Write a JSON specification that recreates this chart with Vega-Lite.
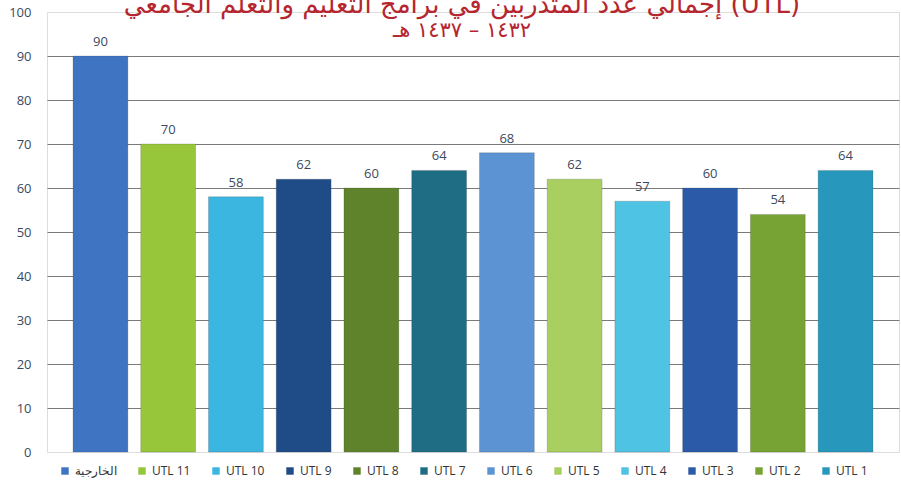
{
  "$schema": "https://vega.github.io/schema/vega-lite/v6.json",
  "width": 852,
  "height": 440,
  "autosize": "none",
  "padding": {"left": 47, "top": 12, "right": 2, "bottom": 31},
  "background": "white",
  "title": {
    "text": "إجمالي عدد المتدربين في برامج التعليم والتعلم الجامعي (UTL)",
    "subtitle": "١٤٣٢ – ١٤٣٧ هـ",
    "font": "DejaVu Sans",
    "fontSize": 26,
    "fontWeight": "normal",
    "color": "#b5262f",
    "subtitleFont": "DejaVu Sans",
    "subtitleFontSize": 21,
    "subtitleColor": "#b5262f",
    "subtitlePadding": 2,
    "anchor": "middle",
    "frame": "group",
    "offset": -35,
    "dx": -11
  },
  "data": {
    "values": [
      {"cat": "الخارجية", "value": 90},
      {"cat": "UTL 11", "value": 70},
      {"cat": "UTL 10", "value": 58},
      {"cat": "UTL 9", "value": 62},
      {"cat": "UTL 8", "value": 60},
      {"cat": "UTL 7", "value": 64},
      {"cat": "UTL 6", "value": 68},
      {"cat": "UTL 5", "value": 62},
      {"cat": "UTL 4", "value": 57},
      {"cat": "UTL 3", "value": 60},
      {"cat": "UTL 2", "value": 54},
      {"cat": "UTL 1", "value": 64}
    ]
  },
  "encoding": {
    "x": {
      "field": "cat",
      "type": "nominal",
      "sort": null,
      "scale": {"paddingInner": 0.19, "paddingOuter": 0.384},
      "axis": null
    },
    "y": {
      "field": "value",
      "type": "quantitative",
      "scale": {"domain": [0, 100], "nice": false},
      "axis": {
        "values": [0, 10, 20, 30, 40, 50, 60, 70, 80, 90, 100],
        "title": null,
        "domain": false,
        "ticks": false,
        "labelPadding": 16,
        "labelFont": "Open Sans",
        "labelFontSize": 13,
        "labelColor": "#3c4a5e",
        "gridColor": {"condition": {"test": "datum.value === 0 || datum.value === 100", "value": "transparent"}, "value": "#7a7a7a"},
        "gridWidth": 1
      }
    }
  },
  "layer": [
    {
      "mark": {"type": "bar", "stroke": "#33333355", "strokeWidth": 0.6},
      "encoding": {
        "color": {
          "field": "cat",
          "type": "nominal",
          "sort": null,
          "scale": {
            "domain": ["الخارجية", "UTL 11", "UTL 10", "UTL 9", "UTL 8", "UTL 7", "UTL 6", "UTL 5", "UTL 4", "UTL 3", "UTL 2", "UTL 1"],
            "range": ["#3f74c2", "#98c63a", "#3bb6e0", "#1f4c86", "#5f832b", "#1e6d84", "#5c93d3", "#a8cf5f", "#4ec3e3", "#2b5aa8", "#77a334", "#2798bb"]
          },
          "legend": {
            "title": null,
            "orient": "none",
            "direction": "horizontal",
            "legendX": 12,
            "legendY": 453,
            "symbolType": "square",
            "symbolSize": 55,
            "symbolStrokeWidth": 0,
            "labelFont": "Open Sans",
            "labelFontSize": 12,
            "labelColor": "#333333",
            "labelOffset": 4,
            "columnPadding": 19
          }
        }
      }
    },
    {
      "mark": {"type": "text", "dy": -7, "font": "Open Sans", "fontSize": 13, "color": "#3c4a5e", "baseline": "bottom"},
      "encoding": {"text": {"field": "value", "type": "quantitative"}}
    }
  ]
}
